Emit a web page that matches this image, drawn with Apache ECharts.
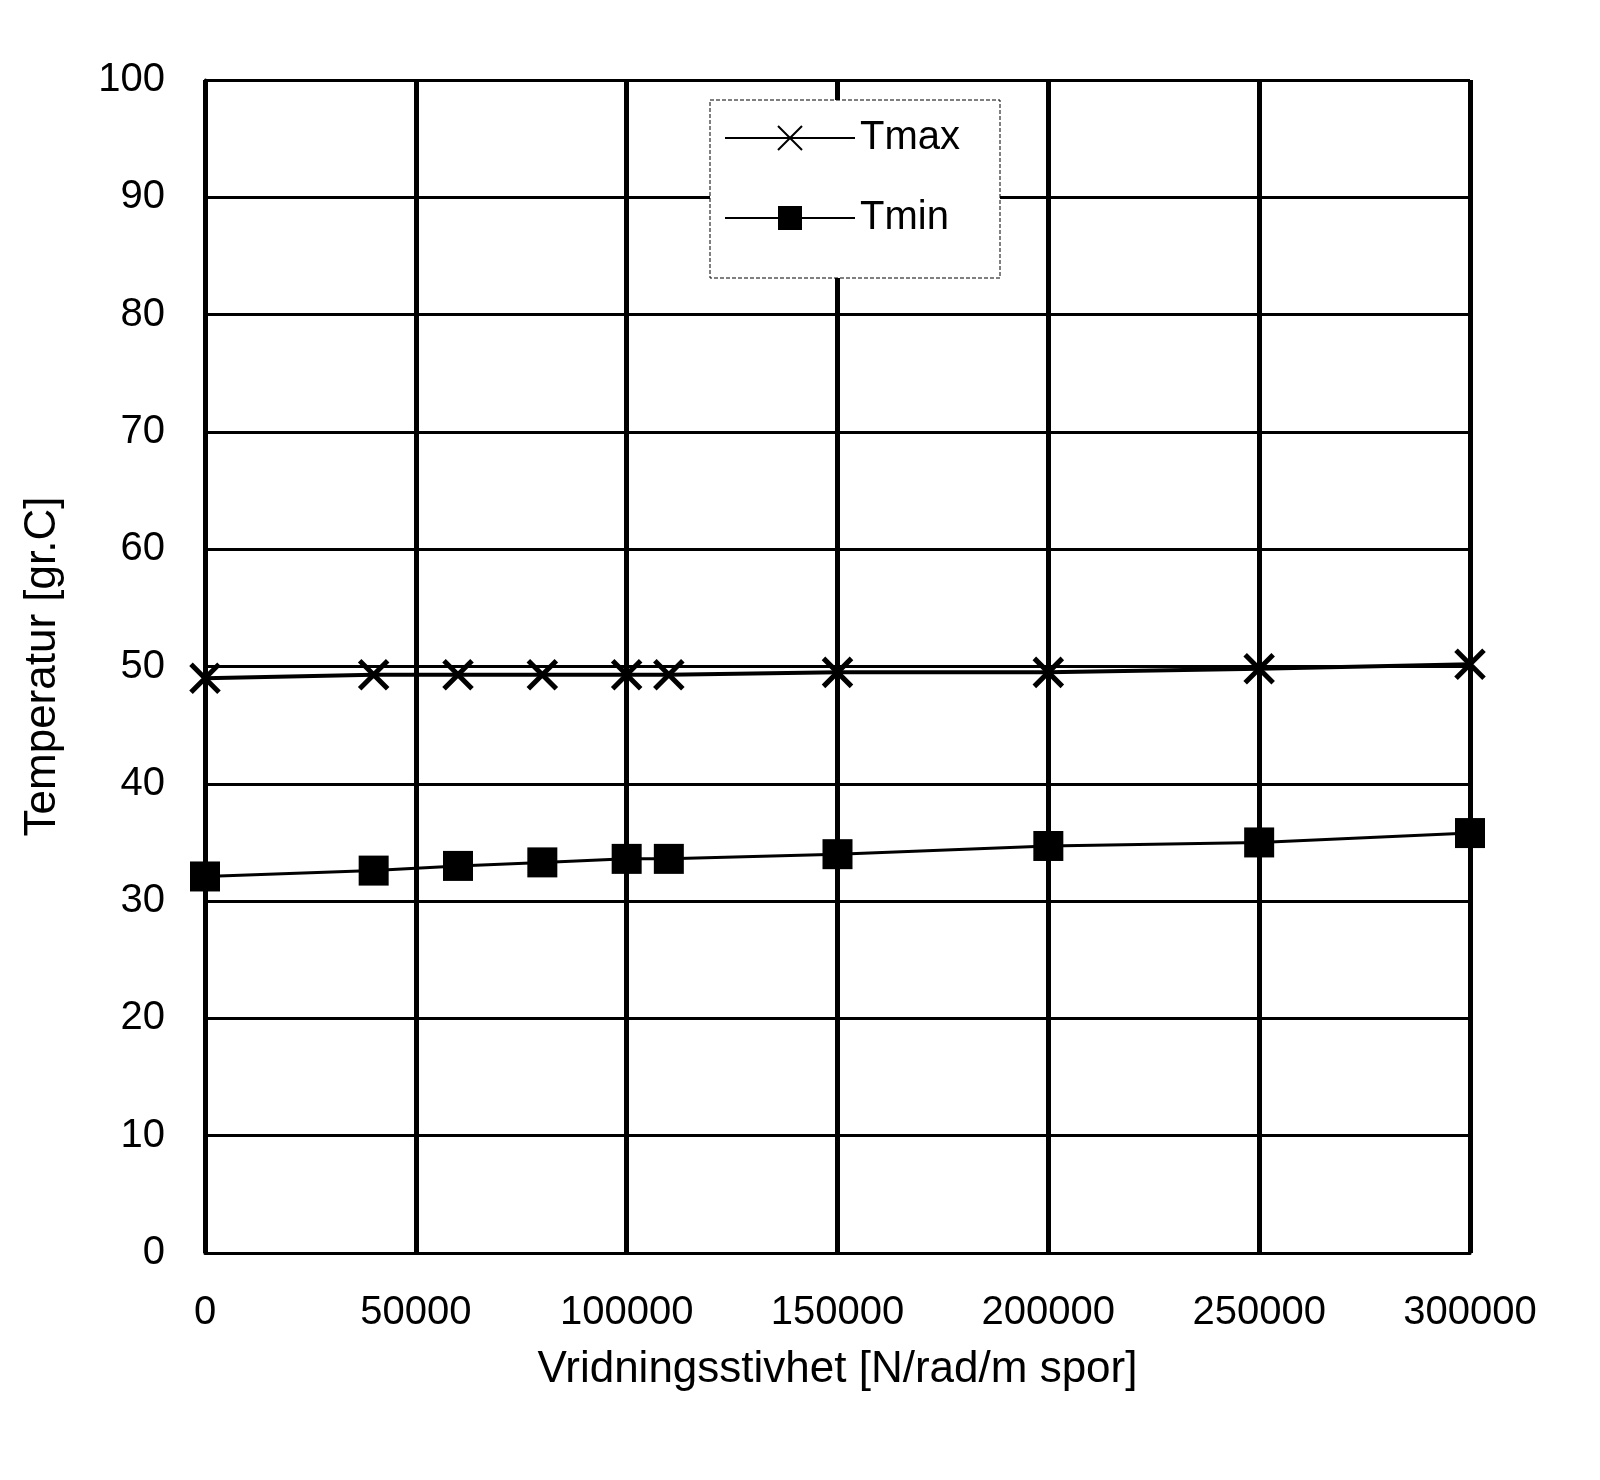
<!DOCTYPE html>
<html><head><meta charset="utf-8">
<script src="https://cdn.jsdelivr.net/npm/echarts@6/dist/echarts.min.js"></script>
<style>html,body{margin:0;background:#fff}#c{width:1600px;height:1480px}</style>
</head><body><div id="c"></div>
<script>
const stiffness = [0, 40000, 60000, 80000, 100000, 110000, 150000, 200000, 250000, 300000];
const tmax = [49.0, 49.3, 49.3, 49.3, 49.3, 49.3, 49.5, 49.5, 49.8, 50.2];
const tmin = [32.1, 32.6, 33.0, 33.3, 33.6, 33.6, 34.0, 34.7, 35.0, 35.8];

const cross = 'path://M0,0L10,10M10,0L0,10';
const font = 'Liberation Sans';
const chart = echarts.init(document.getElementById('c'));
chart.setOption({
  animation: false,
  textStyle: { fontFamily: font },
  grid: { left: 205, right: 130, top: 80, bottom: 227 },
  legend: {
    left: 710, top: 100, orient: 'vertical', itemGap: 40, itemWidth: 130, itemHeight: 30,
    padding: [18, 40, 40, 14], borderColor: '#000', borderWidth: 1, borderType: 'dashed',
    backgroundColor: '#fff', textStyle: { fontSize: 40, color: '#000' },
    data: ['Tmax', 'Tmin']
  },
  xAxis: {
    type: 'value', min: 0, max: 300000, interval: 50000,
    name: 'Vridningsstivhet [N/rad/m spor]', nameLocation: 'middle', nameGap: 95,
    nameTextStyle: { fontSize: 44, color: '#000' },
    axisLine: { lineStyle: { color: '#000', width: 3 } }, axisTick: { show: false },
    axisLabel: { fontSize: 40, color: '#000', margin: 40, formatter: v => String(v) },
    splitLine: { lineStyle: { color: '#000', width: 5 } }
  },
  yAxis: {
    type: 'value', min: 0, max: 100, interval: 10,
    name: 'Temperatur [gr.C]', nameLocation: 'middle', nameGap: 140,
    nameTextStyle: { fontSize: 44, color: '#000' },
    axisLine: { show: true, lineStyle: { color: '#000', width: 3 } }, axisTick: { show: false },
    axisLabel: { fontSize: 40, color: '#000', margin: 40 },
    splitLine: { lineStyle: { color: '#000', width: 3 } }
  },
  series: [
    { name: 'Tmax', type: 'line', data: stiffness.map((x, i) => [x, tmax[i]]),
      symbol: cross, symbolSize: 28, showAllSymbol: true,
      lineStyle: { color: '#000', width: 4 }, itemStyle: { color: '#000', borderColor: '#000', borderWidth: 5 } },
    { name: 'Tmin', type: 'line', data: stiffness.map((x, i) => [x, tmin[i]]),
      symbol: 'rect', symbolSize: 30, showAllSymbol: true,
      lineStyle: { color: '#000', width: 3 }, itemStyle: { color: '#000' } }
  ]
});
</script></body></html>
